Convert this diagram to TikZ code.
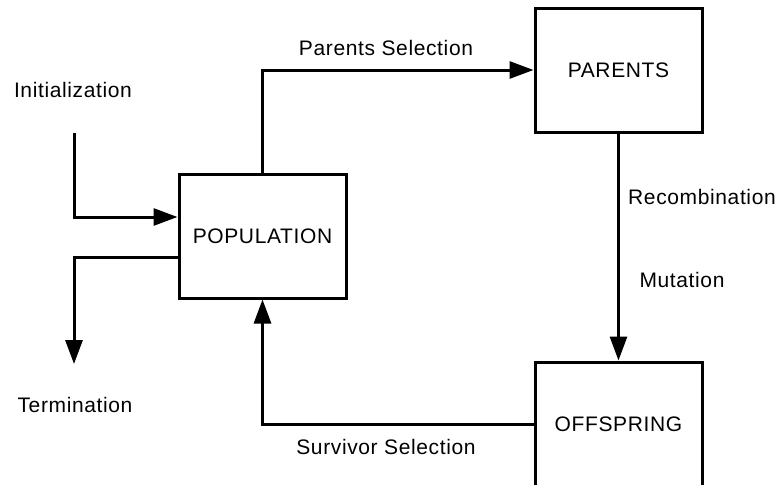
\documentclass[tikz,border=0pt]{standalone}
\usepackage{fontspec}
\setmainfont[LetterSpace=3]{Liberation Sans}
\usetikzlibrary{arrows.meta}
\begin{document}
\begin{tikzpicture}[x=1pt,y=-1pt,
  box/.style={draw,line width=3pt,minimum width=167pt,minimum height=124pt,inner sep=0pt,font=\fontsize{21}{24}\selectfont},
  lbl/.style={inner sep=0pt,font=\fontsize{21}{24}\selectfont},
  conn/.style={line width=3pt},
  arr/.style={conn,-{Triangle[length=24pt,width=17pt]}}]
\useasboundingbox (0,0) rectangle (780,485);
\clip (0,0) rectangle (780,485);
\node[box] (pop) at (262.5,236) {POPULATION};
\node[box] (par) at (618.5,70) {PARENTS};
\node[box] (off) at (618.5,424) {OFFSPRING};
\coordinate (i0) at (74,133);
\coordinate (t0) at (74,364);
\node[lbl] (linit) at (73,90) {Initialization};
\node[lbl] (lterm) at (75,405) {Termination};
\node[lbl] (lps) at (386,48) {Parents Selection};
\node[lbl] (lrec) at (702,197) {Recombination};
\node[lbl] (lmut) at (682,280) {Mutation};
\node[lbl] (lss) at (386,447) {Survivor Selection};
\draw[arr] (i0) |- ([yshift=19pt]pop.west);
\draw[arr] ([yshift=-21pt]pop.west) -| (t0);
\draw[arr] (pop.north) |- (par.west);
\draw[arr] (par.south) -- (off.north);
\draw[arr] (off.west) -| (pop.south);
\end{tikzpicture}
\end{document}
